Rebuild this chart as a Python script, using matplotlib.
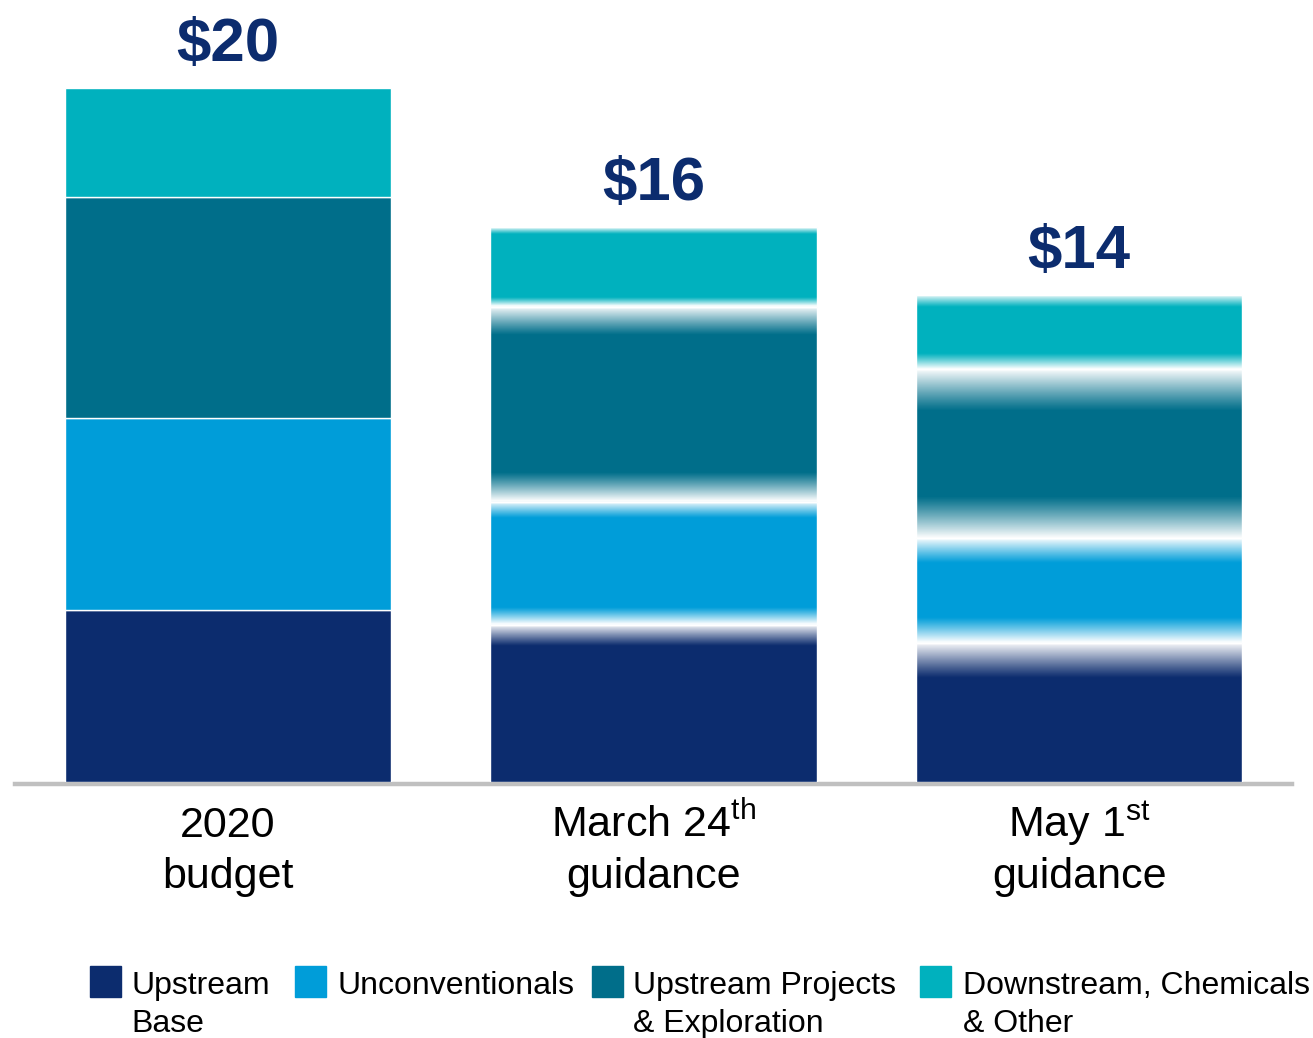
import numpy as np
import matplotlib
matplotlib.use("Agg")
import matplotlib.pyplot as plt
from matplotlib.patches import Rectangle

plt.rcParams['font.family'] = ['Liberation Sans', 'DejaVu Sans']
plt.rcParams['mathtext.fontset'] = 'custom'
plt.rcParams['mathtext.rm'] = 'Liberation Sans'
plt.rcParams['mathtext.it'] = 'Liberation Sans:italic'

# data (US$ billions)
line1 = ['2020', r'March 24$^{\mathrm{th}}$', r'May 1$^{\mathrm{st}}$']
line2 = ['budget', 'guidance', 'guidance']
upstream_base = [4.94, 4.52, 4.00]
unconventionals = [5.52, 3.54, 3.02]
upstream_projects = [6.35, 5.61, 4.86]
downstream = [3.16, 2.30, 2.13]
totals = [20, 16, 14]

series = [upstream_base, unconventionals, upstream_projects, downstream]
names = ['Upstream\nBase', 'Unconventionals', 'Upstream Projects\n& Exploration',
         'Downstream, Chemicals\n& Other']
colors = ['#0c2c6e', '#009dd9', '#006e8a', '#00b1be']
navy = '#0c2c6e'

# white fade between segments (data units below / above each boundary), per bar
fade = [None,
        [0.62, 0.48, 0.82, 0.25],
        [1.02, 0.72, 1.20, 0.45]]

W = 1313
H = 1038
fig = plt.figure(figsize=(W / 100, H / 100), dpi=100)
ax = fig.add_axes([15 / W, (H - 782) / H, 1277 / W, 765 / H])

x = np.arange(len(totals))
bw = 0.766
bottom = np.zeros(len(totals))
for vals, c in zip(series, colors):
    ax.bar(x, vals, bw, bottom=bottom, color=c, edgecolor='white',
           linewidth=1.0, zorder=3)
    bottom += np.array(vals)


def fade_band(xc, y0, below, above):
    n = 300
    ys = np.linspace(y0 - below, y0 + above, n)
    d = np.where(ys < y0, (y0 - ys) / max(below, 1e-9), (ys - y0) / max(above, 1e-9))
    d = np.clip(d, 0, 1)
    a = (1 - d) ** 1.1
    img = np.ones((n, 2, 4))
    img[..., 3] = a[:, None]
    ax.imshow(img, extent=[xc - bw / 2, xc + bw / 2, y0 - below, y0 + above],
              origin='lower', aspect='auto', zorder=4, interpolation='bilinear')


for i in range(len(totals)):
    if fade[i] is None:
        continue
    cum = np.cumsum([s[i] for s in series])
    for k in range(len(series) - 1):
        fade_band(x[i], cum[k], fade[i][k], fade[i][k + 1])
    fade_band(x[i], cum[-1], fade[i][-1] * 0.8, 0)

for i, t in enumerate(totals):
    top = sum(s[i] for s in series)
    ax.annotate(f'${t}', xy=(x[i], top), xytext=(0, 19), textcoords='offset points',
                ha='center', va='baseline', fontsize=44.5, fontweight='bold', color=navy)
    ax.annotate(line1[i], xy=(x[i], 0), xytext=(0, -55 * 0.72), textcoords='offset points',
                ha='center', va='baseline', fontsize=31, color='black')
    ax.annotate(line2[i], xy=(x[i], 0), xytext=(0, -106 * 0.72), textcoords='offset points',
                ha='center', va='baseline', fontsize=31, color='black')

ax.set_xlim(-0.5, 2.5)
ax.set_ylim(0, 22)
ax.set_xticks([])
ax.set_yticks([])
for s in ['top', 'left', 'right']:
    ax.spines[s].set_visible(False)
ax.spines['bottom'].set_color('#c0c0c0')
ax.spines['bottom'].set_linewidth(3.2)
ax.spines['bottom'].set_position(('data', -0.05))

# legend drawn by hand so the swatch lines up with the first text line
sq_x = [90, 295, 592, 920]
tx_x = [131, 338, 633, 963]
for c, name, sx, tx in zip(colors, names, sq_x, tx_x):
    fig.patches.append(Rectangle((sx / W, 1 - 997 / H), 31 / W, 31 / H, color=c,
                                 transform=fig.transFigure, figure=fig))
    for j, txt in enumerate(name.split('\n')):
        fig.text(tx / W, 1 - (994 + 38 * j) / H, txt, fontsize=23, va='baseline',
                 ha='left', color='black')

fig.savefig('out.png', dpi=100)
